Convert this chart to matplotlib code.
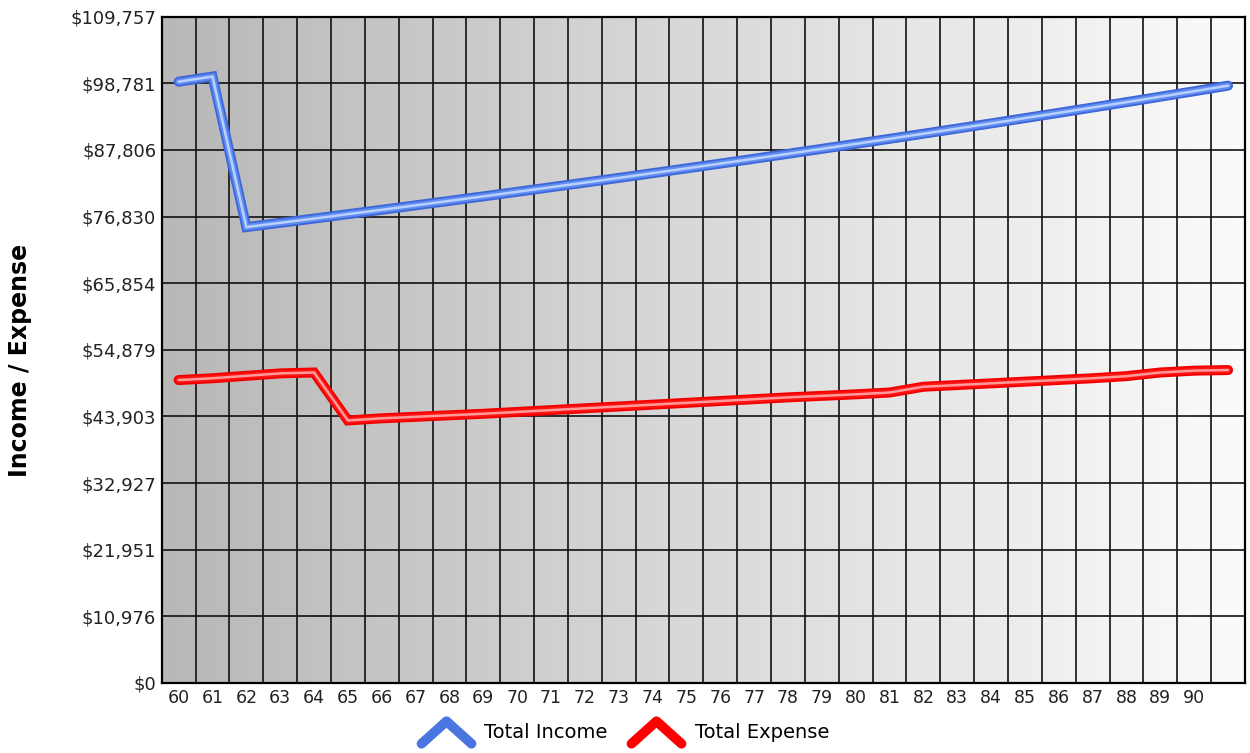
import numpy as np
import matplotlib
matplotlib.use("Agg")
import matplotlib.pyplot as plt
from matplotlib.lines import Line2D
from matplotlib.path import Path
from matplotlib.markers import MarkerStyle
from matplotlib.colors import LinearSegmentedColormap

# ---- data ----
ages = list(range(60, 92))
age_labels = [str(a) for a in range(60, 91)] + [""]
total_income = [99050, 99900, 75100, 75800, 76500, 77230, 77950, 78680, 79420, 80160,
                80910, 81670, 82430, 83200, 83980, 84770, 85560, 86360, 87170, 87990,
                88810, 89640, 90480, 91330, 92180, 93050, 93920, 94800, 95680, 96580,
                97480, 98400]
total_expense = [49900, 50200, 50600, 51000, 51150, 43250, 43600, 43850, 44100, 44350,
                 44650, 44950, 45250, 45550, 45850, 46150, 46450, 46750, 47050, 47300,
                 47550, 47850, 48800, 49080, 49360, 49640, 49920, 50200, 50550, 51150,
                 51450, 51550]
y_max = 109757
y_tick_labels = ["$0", "$10,976", "$21,951", "$32,927", "$43,903", "$54,879",
                 "$65,854", "$76,830", "$87,806", "$98,781", "$109,757"]
series_names = ["Total Income", "Total Expense"]

plt.rcParams['font.family'] = ['DejaVu Sans']

fig = plt.figure(figsize=(12.5, 7.53), dpi=100)
ax = fig.add_axes([161.7 / 1250, 1 - 683 / 753, (1245 - 161.7) / 1250, (683 - 16.7) / 753])

x = np.arange(len(ages))
ax.set_xlim(-0.5, len(ages) - 0.5)
ax.set_ylim(0, y_max)

# gradient background
grad = np.linspace(0, 1, 256).reshape(1, -1)
cmap = LinearSegmentedColormap.from_list("bg", ["#b8b8b8", "#fbfbfb"])
ax.imshow(grad, aspect="auto", cmap=cmap, extent=[-0.5, len(ages) - 0.5, 0, y_max],
          zorder=0, interpolation="bicubic")

# grid
yt = np.linspace(0, y_max, len(y_tick_labels))
for v in yt[1:-1]:
    ax.axhline(v, color="#111111", lw=1.2, zorder=1)
for b in x[:-1] + 0.5:
    ax.axvline(b, color="#111111", lw=1.2, zorder=1)

# glossy lines
def glossy(yvals, outer, mid, hi):
    kw = dict(solid_capstyle="round", solid_joinstyle="miter")
    ax.plot(x, yvals, color=outer, lw=7.2, zorder=3, **kw)
    ax.plot(x, yvals, color=mid, lw=4.6, zorder=4, **kw)
    ax.plot(x, yvals, color=hi, lw=1.8, zorder=5, **kw)

glossy(total_income, "#3d66d8", "#5f8cef", "#b9d0ff")
glossy(total_expense, "#f20000", "#ff1414", "#ff9a9a")

ax.set_yticks(yt)
ax.set_yticklabels(y_tick_labels, fontsize=13, color="#222222")
ax.set_xticks(x)
ax.set_xticklabels(age_labels, fontsize=12.5, color="#222222")
ax.tick_params(length=0, pad=4)
for s in ax.spines.values():
    s.set_color("black")
    s.set_linewidth(1.6)
    s.set_zorder(6)

fig.text(20 / 1250, 1 - 360 / 753, "Income / Expense", rotation=90, ha="center", va="center",
         fontsize=17, fontweight="bold", color="black")

caret = Path([(-1.0, -0.45), (0.0, 0.45), (1.0, -0.45)], [Path.MOVETO, Path.LINETO, Path.LINETO])
mk = MarkerStyle(caret, fillstyle="none", capstyle="round", joinstyle="miter")
handles = [
    Line2D([], [], linestyle="none", marker=mk, markersize=36, markeredgewidth=7,
           markeredgecolor="#4a76e2"),
    Line2D([], [], linestyle="none", marker=mk, markersize=36, markeredgewidth=7,
           markeredgecolor="#ff0000"),
]
fig.legend(handles, series_names, loc="center", bbox_to_anchor=(0.5, 1 - 733 / 753), ncol=2,
           frameon=False, fontsize=14, handlelength=2.6, handletextpad=0.7, columnspacing=1.2)

fig.savefig("out.png", dpi=100, facecolor="white")
